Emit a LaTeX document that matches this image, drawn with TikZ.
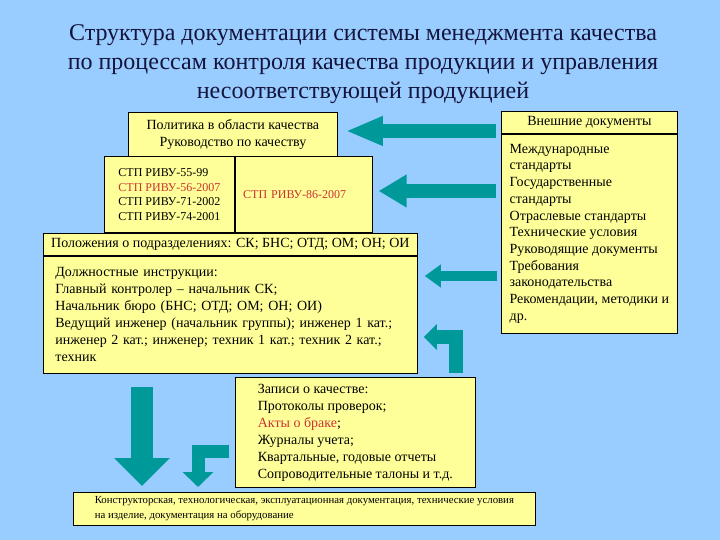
\documentclass[tikz,border=0pt]{standalone}
\usepackage{fontspec}
\setmainfont{Liberation Serif}
\usetikzlibrary{arrows.meta}
\definecolor{QMSBack}{HTML}{99CCFF}
\definecolor{QMSBox}{HTML}{FFFF99}
\definecolor{QMSTeal}{HTML}{009999}
\definecolor{QMSRed}{HTML}{CC3333}
\definecolor{QMSNavy}{HTML}{14143C}

\begin{document}
\begin{tikzpicture}[x=1pt,y=-1pt]
  \tikzstyle{docbox}=[draw=black,fill=QMSBox,line width=0.8pt,inner sep=0pt,
    anchor=north west,font=\fontsize{14}{17}\selectfont]
  \tikzstyle{blockarrow}=[QMSTeal,line join=miter]
  \fill[QMSBack] (0,0) rectangle (720,540);
  \useasboundingbox (0,0) rectangle (720,540);
  \node[font=\fontsize{24}{29}\selectfont,text=QMSNavy,align=center] (title) at (363,64)
    {Структура документации системы менеджмента качества\\
     по процессам контроля качества продукции и управления\\
     несоответствующей продукцией};
  \node[docbox,minimum width=209pt,minimum height=44pt,align=center] (pol) at (128,112)
    {Политика в области качества\\Руководство по качеству};
  \node[docbox,minimum width=130pt,minimum height=76pt,align=left,
    font=\fontsize{12}{14.5}\selectfont] (stpL) at (104,156)
    {СТП РИВУ-55-99\\\textcolor{QMSRed}{СТП РИВУ-56-2007}\\СТП РИВУ-71-2002\\СТП РИВУ-74-2001};
  \node[docbox,minimum width=137pt,minimum height=76pt,inner xsep=8pt,text width=121pt,
    align=left,font=\fontsize{12}{14.5}\selectfont] (stpR) at (stpL.north east)
    {\textcolor{QMSRed}{СТП РИВУ-86-2007}};
  \node[docbox,minimum width=374pt,minimum height=22pt,align=center] (polozh) at (43,233)
    {Положения о подразделениях: СК; БНС; ОТД; ОМ; ОН; ОИ};
  \node[docbox,minimum width=374pt,minimum height=117pt,inner xsep=12pt,text width=350pt,
    align=left] (dolzh) at (polozh.south west)
    {Должностные инструкции:\\
     Главный контролер – начальник СК;\\
     Начальник бюро (БНС; ОТД; ОМ; ОН; ОИ)\\
     Ведущий инженер (начальник группы); инженер 1 кат.;\\
     инженер 2 кат.; инженер; техник 1 кат.; техник 2 кат.;\\
     техник};
  \node[docbox,minimum width=176pt,minimum height=22pt,align=center] (exthead) at (501,111)
    {Внешние документы};
  \node[docbox,minimum width=176pt,minimum height=199pt,align=left,
    font=\fontsize{14}{16.7}\selectfont] (ext) at (exthead.south west)
    {Международные\\стандарты\\Государственные\\стандарты\\Отраслевые стандарты\\
     Технические условия\\Руководящие документы\\Требования\\законодательства\\
     Рекомендации, методики и\\др.};
  \node[docbox,minimum width=240pt,minimum height=110pt,align=left] (zap) at (235,377)
    {Записи о качестве:\\Протоколы проверок;\\\textcolor{QMSRed}{Акты о браке};\\
     Журналы учета;\\Квартальные, годовые отчеты\\Сопроводительные талоны и т.д.};
  \node[docbox,minimum width=462pt,minimum height=33pt,align=left,
    font=\fontsize{10.8}{15}\selectfont] (bot) at (73,492)
    {Конструкторская, технологическая, эксплуатационная документация, технические условия\\
     на изделие, документация на оборудование};
  \coordinate (a1) at (496,131);
  \coordinate (a2) at (496,191);
  \coordinate (a3) at (497,276);
  \coordinate (a4) at (456,337);
  \coordinate (a5) at (142,385);
  \coordinate (a6) at (198,451);
  \draw[blockarrow,line width=14pt,-{Triangle[width=27pt,length=37pt]},shorten >=8pt]
    (a1) -- (pol.east |- a1);
  \draw[blockarrow,line width=14pt,-{Triangle[width=31pt,length=28pt]},shorten >=6pt]
    (a2) -- (stpR.east |- a2);
  \draw[blockarrow,line width=10pt,-{Triangle[width=22pt,length=16pt]},shorten >=7pt]
    (a3) -- (dolzh.east |- a3);
  \draw[blockarrow,line width=14pt,-{Triangle[width=25pt,length=13pt]},shorten <=4pt,
    shorten >=6pt] (zap.north -| a4) |- (dolzh.east |- a4);
  \draw[blockarrow,line width=22pt,-{Triangle[width=54pt,length=28pt]},shorten <=13pt,
    shorten >=6pt] (dolzh.south -| a5) -- (bot.north -| a5);
  \draw[blockarrow,line width=13pt,-{Triangle[width=30pt,length=15pt]},shorten <=6pt,
    shorten >=5pt] (zap.west |- a6) -| (bot.north -| a6);
\end{tikzpicture}
\end{document}
